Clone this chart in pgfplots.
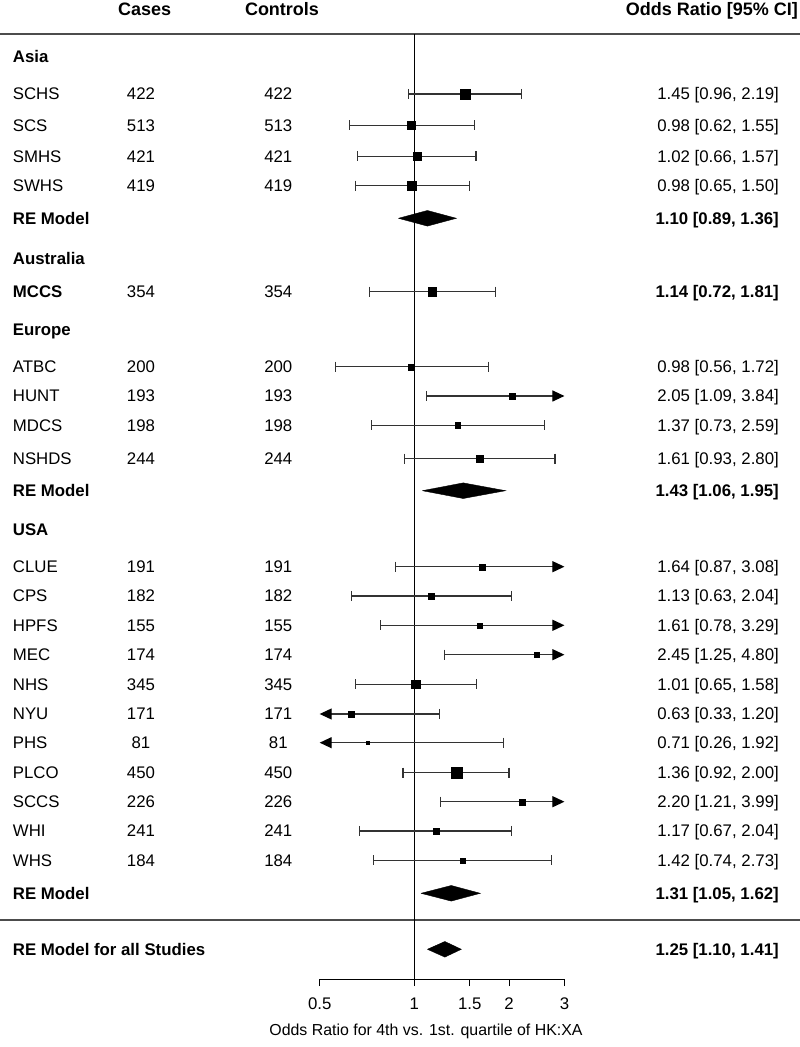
\documentclass[border=0pt]{standalone}
\usepackage{fontspec}
\setmainfont{Liberation Sans}
\usepackage{pgfplots}
\usepackage{pgfplotstable}
\pgfplotsset{compat=1.18}
\usetikzlibrary{arrows.meta}
\newcommand\f{\fontsize{16.8pt}{20pt}\selectfont}
\newcommand\fh{\fontsize{18pt}{21pt}\selectfont}
\newcommand\fx{\fontsize{15.9pt}{19pt}\selectfont}

% study estimates: est, row position (px from top, negated), square half-size
\pgfplotstableread{
name est y s
SCHS 1.45 -94 4.7
SCS 0.98 -125.3 4.0
SMHS 1.02 -156.3 4.3
SWHS 0.98 -185.7 4.4
MCCS 1.14 -291.7 4.2
ATBC 0.98 -366.7 3.0
HUNT 2.05 -396 2.9
MDCS 1.37 -425.3 2.7
NSHDS 1.61 -458.7 3.4
CLUE 1.64 -566.7 3.0
CPS 1.13 -596 3.0
HPFS 1.61 -625.3 2.6
MEC 2.45 -654.7 2.7
NHS 1.01 -684.3 4.2
NYU 0.63 -714 2.8
PHS 0.71 -742.7 1.7
PLCO 1.36 -772.7 5.3
SCCS 2.20 -801.7 3.0
WHI 1.17 -831 3.0
WHS 1.42 -860.3 2.5
}\studies

\newcommand\ci[3]{\addplot[ci] coordinates {(#1,-#3) (#2,-#3)};}
\newcommand\ciR[2]{\addplot[ci, mark indices={1}, -{Triangle[length=12pt,width=11pt,color=black]}] coordinates {(#1,-#2) (3,-#2)};}
\newcommand\ciL[2]{\addplot[ci, mark indices={1}, -{Triangle[length=12pt,width=11pt,color=black]}] coordinates {(#1,-#2) (0.5,-#2)};}
\newcommand\dia[4]{\addplot[fill=black, draw=black, line width=0.4pt] coordinates {(#2,-#4) (#1,{-#4+7.8}) (#3,-#4) (#1,{-#4-7.8}) (#2,-#4)};}

\newcommand\row[5]{%
 \node[t, anchor=base west] at (12.7pt,{(973-#1)*1pt}) {#2};
 \node[t, anchor=base] at (141pt,{(973-#1)*1pt}) {#3};
 \node[t, anchor=base] at (278.3pt,{(973-#1)*1pt}) {#4};
 \node[t, anchor=base east] at (779pt,{(973-#1)*1pt}) {#5};}
\newcommand\grp[2]{\node[t, anchor=base west] at (12.7pt,{(973-#1)*1pt}) {\bfseries #2};}

\begin{document}
\begin{tikzpicture}[t/.style={inner sep=0pt, font=\f}]
\begin{axis}[
  at={(0,0)}, anchor=south west,
  scale only axis, width=800pt, height=979pt,
  xmode=log, xmin=0.04815, xmax=16.83,
  ymin=-979, ymax=0,
  axis line style={draw=none},
  ytick=\empty,
  xtick={0.5,1,1.5,2,3},
  xticklabels={0.5,1,1.5,2,3},
  xtick pos=bottom, tick align=outside,
  major tick length=7pt,
  xtick style={black, line width=1pt},
  xticklabel style={font=\f, yshift=-8pt},
  clip=false,
  ci/.style={black!80, line width=1.1pt, mark=|, mark size=5pt, mark options={solid, -, line width=1.1pt, black!80}},
]
\addplot[black!70, line width=1.1pt] coordinates {(0.04815,-34) (16.83,-34)};
\addplot[black!70, line width=1.1pt] coordinates {(0.04815,-920) (16.83,-920)};
\addplot[black, line width=1.2pt] coordinates {(1,-34) (1,-979)};
\addplot[black, line width=1pt] coordinates {(0.5,-979) (3,-979)};

\ci{0.96}{2.19}{94}
\ci{0.62}{1.55}{125.3}
\ci{0.66}{1.57}{156.3}
\ci{0.65}{1.50}{185.7}
\ci{0.72}{1.81}{291.7}
\ci{0.56}{1.72}{366.7}
\ciR{1.09}{396}
\ci{0.73}{2.59}{425.3}
\ci{0.93}{2.80}{458.7}
\ciR{0.87}{566.7}
\ci{0.63}{2.04}{596}
\ciR{0.78}{625.3}
\ciR{1.25}{654.7}
\ci{0.65}{1.58}{684.3}
\ciL{1.20}{714}
\ciL{1.92}{742.7}
\ci{0.92}{2.00}{772.7}
\ciR{1.21}{801.7}
\ci{0.67}{2.04}{831}
\ci{0.74}{2.73}{860.3}

\addplot[scatter, only marks, mark=square*,
  scatter/use mapped color={draw=black, fill=black},
  mark options={line width=0.3pt},
  visualization depends on={\thisrow{s} \as \perpointmarksize},
  scatter/@pre marker code/.append style={/tikz/mark size=\perpointmarksize}]
  table[x=est, y=y] {\studies};

\dia{1.10}{0.89}{1.36}{218.3}
\dia{1.43}{1.06}{1.95}{490.7}
\dia{1.31}{1.05}{1.62}{893.3}
\dia{1.25}{1.10}{1.41}{949.3}
\end{axis}

% header
\node[t, font=\fh, anchor=base] at (144.7pt,{(972.6-9.5)*1pt}) {\bfseries Cases};
\node[t, font=\fh, anchor=base] at (282pt,{(972.6-9.5)*1pt}) {\bfseries Controls};
\node[t, font=\fh, anchor=base east] at (798pt,{(972.6-9.5)*1pt}) {\bfseries Odds Ratio [95\% CI]};

\grp{57}{Asia}
\row{94}{SCHS}{422}{422}{1.45 [0.96, 2.19]}
\row{125.3}{SCS}{513}{513}{0.98 [0.62, 1.55]}
\row{156.3}{SMHS}{421}{421}{1.02 [0.66, 1.57]}
\row{185.7}{SWHS}{419}{419}{0.98 [0.65, 1.50]}
\row{218.3}{\bfseries RE Model}{}{}{\bfseries 1.10 [0.89, 1.36]}
\grp{259}{Australia}
\row{291.7}{\bfseries MCCS}{354}{354}{\bfseries 1.14 [0.72, 1.81]}
\grp{330}{Europe}
\row{366.7}{ATBC}{200}{200}{0.98 [0.56, 1.72]}
\row{396}{HUNT}{193}{193}{2.05 [1.09, 3.84]}
\row{425.3}{MDCS}{198}{198}{1.37 [0.73, 2.59]}
\row{458.7}{NSHDS}{244}{244}{1.61 [0.93, 2.80]}
\row{490.7}{\bfseries RE Model}{}{}{\bfseries 1.43 [1.06, 1.95]}
\grp{530}{USA}
\row{566.7}{CLUE}{191}{191}{1.64 [0.87, 3.08]}
\row{596}{CPS}{182}{182}{1.13 [0.63, 2.04]}
\row{625.3}{HPFS}{155}{155}{1.61 [0.78, 3.29]}
\row{654.7}{MEC}{174}{174}{2.45 [1.25, 4.80]}
\row{684.3}{NHS}{345}{345}{1.01 [0.65, 1.58]}
\row{714}{NYU}{171}{171}{0.63 [0.33, 1.20]}
\row{742.7}{PHS}{81}{81}{0.71 [0.26, 1.92]}
\row{772.7}{PLCO}{450}{450}{1.36 [0.92, 2.00]}
\row{801.7}{SCCS}{226}{226}{2.20 [1.21, 3.99]}
\row{831}{WHI}{241}{241}{1.17 [0.67, 2.04]}
\row{860.3}{WHS}{184}{184}{1.42 [0.74, 2.73]}
\row{893.3}{\bfseries RE Model}{}{}{\bfseries 1.31 [1.05, 1.62]}
\row{949.3}{\bfseries RE Model for all Studies}{}{}{\bfseries 1.25 [1.10, 1.41]}

\node[t, font=\fx, anchor=base] at (426pt,{(973.7-1030)*1pt}) {Odds Ratio for 4th vs. 1st. quartile of HK:XA};

\pgfresetboundingbox
\path[use as bounding box] (0,-68pt) rectangle (800pt,979pt);
\end{tikzpicture}
\end{document}
